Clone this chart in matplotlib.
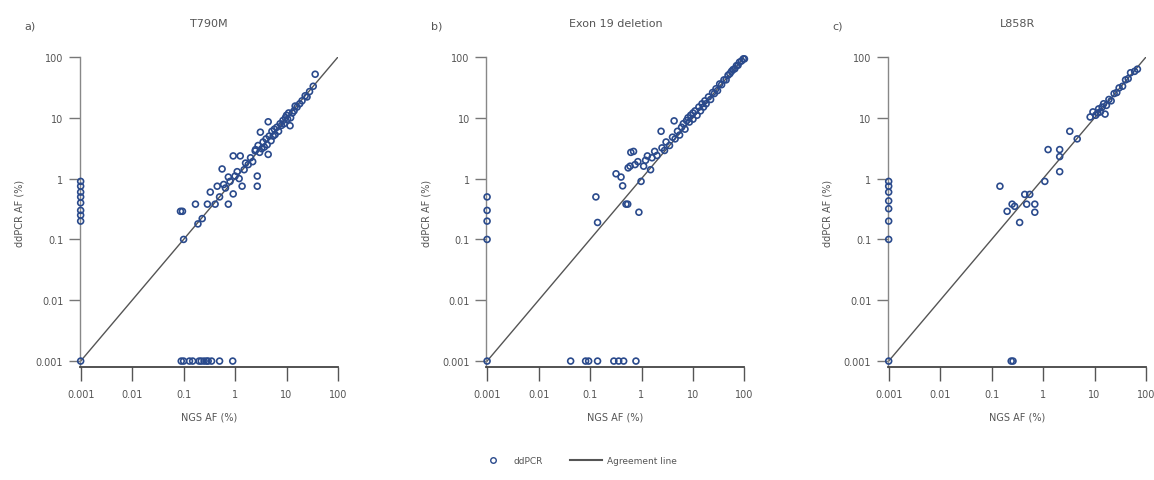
import matplotlib
matplotlib.use("Agg")
import matplotlib.pyplot as plt
from matplotlib.lines import Line2D

# ---------------- data ----------------
titles = ["T790M", "Exon 19 deletion", "L858R"]
panel_labels = ["a)", "b)", "c)"]
tick_values = [0.001, 0.01, 0.1, 1, 10, 100]
tick_labels = ["0.001", "0.01", "0.1", "1", "10", "100"]

# T790M
a_ngs = [0.001]*8 + [0.001] + [0.09, 0.1, 0.13, 0.15, 0.2, 0.22, 0.25, 0.28, 0.3, 0.35, 0.5, 0.9] + [
    0.1, 0.087, 0.095, 0.17, 0.19, 0.23, 0.29, 0.33, 0.41, 0.45, 0.5, 0.56, 0.6, 0.65, 0.74, 0.74, 0.8,
    0.92, 0.92, 1.0, 1.1, 1.26, 1.37, 1.2, 1.5, 1.6, 1.8, 2.0, 2.2, 2.46, 2.7, 2.7, 2.5, 2.8, 3.0, 3.1,
    3.3, 3.5, 3.7, 4.0, 4.2, 4.4, 4.4, 4.6, 5.0, 5.2, 5.5, 5.8, 6.0, 6.5, 7.0, 7.5, 8.0, 8.5, 9.0, 9.5,
    10, 10.5, 11, 11.7, 12, 13, 14, 14.7, 16, 18, 20, 23, 25, 28, 33, 36]
a_ddpcr = [0.9, 0.75, 0.6, 0.5, 0.4, 0.3, 0.25, 0.2] + [0.001] + [0.001]*12 + [
    0.1, 0.29, 0.29, 0.38, 0.18, 0.22, 0.38, 0.6, 0.38, 0.75, 0.5, 1.44, 0.8, 0.7, 1.06, 0.38, 0.9,
    2.36, 0.56, 1.1, 1.3, 2.36, 0.75, 1.0, 1.4, 1.8, 1.7, 2.2, 1.9, 2.85, 1.1, 0.75, 3.0, 3.5, 2.7, 5.8,
    3.1, 4.0, 3.3, 4.5, 3.6, 8.6, 2.5, 5.0, 4.2, 6.0, 5.0, 6.5, 5.3, 7.0, 6.0, 8.0, 7.5, 9.0, 8.0, 10.0,
    11, 9.5, 12, 7.4, 10, 12, 13, 15.6, 15, 17, 19, 23, 22, 27, 33, 52]

# Exon 19 deletion
b_ngs = [0.001]*4 + [0.001] + [0.042, 0.082, 0.094, 0.14, 0.29, 0.36, 0.45, 0.78] + [
    0.13, 0.14, 0.54, 0.5, 0.89, 0.32, 0.4, 0.43, 0.62, 0.7, 0.55, 0.6, 0.75, 0.85, 0.98, 1.1, 1.2, 1.3,
    1.5, 1.6, 1.8, 2.0, 2.4, 2.5, 2.8, 3.0, 3.5, 4.3, 4.0, 4.5, 5, 5.5, 6, 6.5, 7, 7.5, 8, 8.5, 9, 10, 10,
    11, 12, 13, 14, 15, 16, 17, 18, 20, 22, 24, 26, 28, 30, 33, 36, 40, 44, 48, 52, 56, 60, 65, 70, 75,
    80, 88, 95, 100]
b_ddpcr = [0.5, 0.3, 0.2, 0.1] + [0.001] + [0.001]*8 + [
    0.5, 0.19, 0.38, 0.38, 0.28, 1.2, 1.06, 0.76, 2.7, 2.8, 1.5, 1.6, 1.7, 1.9, 0.9, 1.6, 2.0, 2.36,
    1.4, 2.2, 2.8, 2.4, 6.0, 3.2, 2.9, 4.0, 3.5, 8.9, 4.8, 4.5, 6, 5.2, 7, 8, 6.5, 9, 10, 8.5, 11, 12, 9.5,
    13, 11, 15, 13, 17, 15, 19, 17, 22, 20, 26, 25, 30, 28, 36, 35, 42, 42, 50, 53, 58, 62, 64, 72, 73,
    82, 86, 93, 93]

# L858R
c_ngs = [0.001]*7 + [0.001] + [0.24, 0.26] + [
    0.145, 0.2, 0.25, 0.28, 0.35, 0.44, 0.55, 0.48, 0.69, 0.69, 1.08, 1.25, 2.1, 2.1, 2.1, 3.3, 4.6, 8.2,
    9.3, 10.5, 11.5, 12, 13, 14, 16, 15, 17, 19, 21, 24, 27, 30, 35, 40, 45, 50, 60, 68]
c_ddpcr = [0.9, 0.75, 0.6, 0.43, 0.32, 0.2, 0.1] + [0.001] + [0.001, 0.001] + [
    0.75, 0.29, 0.38, 0.35, 0.19, 0.55, 0.55, 0.38, 0.38, 0.28, 0.9, 3.0, 3.0, 2.3, 1.3, 6.0, 4.5, 10.3,
    12.5, 11, 12, 14, 12.5, 15, 11.5, 17, 16, 20, 19, 25, 26, 31, 33, 42, 44, 55, 58, 63]

agreement = [0.001, 100]

panels = [(a_ngs, a_ddpcr), (b_ngs, b_ddpcr), (c_ngs, c_ddpcr)]

# ---------------- plot ----------------
plt.rcParams['font.family'] = ['DejaVu Sans']
fig = plt.figure(figsize=(11.54, 4.81), dpi=100)

lefts = [0.0693, 0.4215, 0.7695]
bottom, width, height = 0.235, 0.2236, 0.6445
marker_color = '#2a4a8c'
text_color = '#555555'

for i, (xs, ys) in enumerate(panels):
    ax = fig.add_axes([lefts[i], bottom, width, height])
    ax.set_xscale('log')
    ax.set_yscale('log')
    ax.plot(agreement, agreement, color='#555555', lw=1.0, zorder=1)
    ax.scatter(xs, ys, s=18, facecolors='none', edgecolors=marker_color,
               linewidths=1.2, zorder=3, clip_on=False)
    ax.set_xlim(0.00097, 100)
    ax.set_ylim(0.0008, 100)
    ax.set_xticks(tick_values)
    ax.set_xticklabels(tick_labels)
    ax.set_yticks(tick_values)
    ax.set_yticklabels(tick_labels)
    ax.minorticks_off()
    for s in ['top', 'right']:
        ax.spines[s].set_visible(False)
    ax.spines['left'].set_color('#888888')
    ax.spines['bottom'].set_color('#444444')
    ax.spines['left'].set_linewidth(1.0)
    ax.spines['bottom'].set_linewidth(1.3)
    ax.tick_params(axis='x', length=10, width=1.0, color='#555555', labelsize=7,
                   labelcolor=text_color, pad=6)
    ax.tick_params(axis='y', length=8, width=1.0, color='#777777', labelsize=7,
                   labelcolor=text_color, pad=4)
    ax.set_xlabel("NGS AF (%)", fontsize=7, color=text_color, labelpad=9)
    ax.set_ylabel("ddPCR AF (%)", fontsize=7, color=text_color, labelpad=8)
    ax.set_title(titles[i], fontsize=8, color=text_color, pad=22)
    fig.text(lefts[i] - 0.048, 0.945, panel_labels[i], fontsize=8, color=text_color,
             ha='left', va='center')

handles = [
    Line2D([], [], marker='o', linestyle='none', markerfacecolor='none',
           markeredgecolor=marker_color, markersize=4, markeredgewidth=1.0, label='ddPCR'),
    Line2D([], [], color='#555555', lw=1.5, label='Agreement line'),
]
fig.legend(handles=handles, loc='center', bbox_to_anchor=(0.5, 0.04), ncol=2,
           frameon=False, fontsize=6.5, labelcolor=text_color, handlelength=3.5,
           columnspacing=3.0, handletextpad=0.6)

fig.savefig("out.png", dpi=100, facecolor='white')
